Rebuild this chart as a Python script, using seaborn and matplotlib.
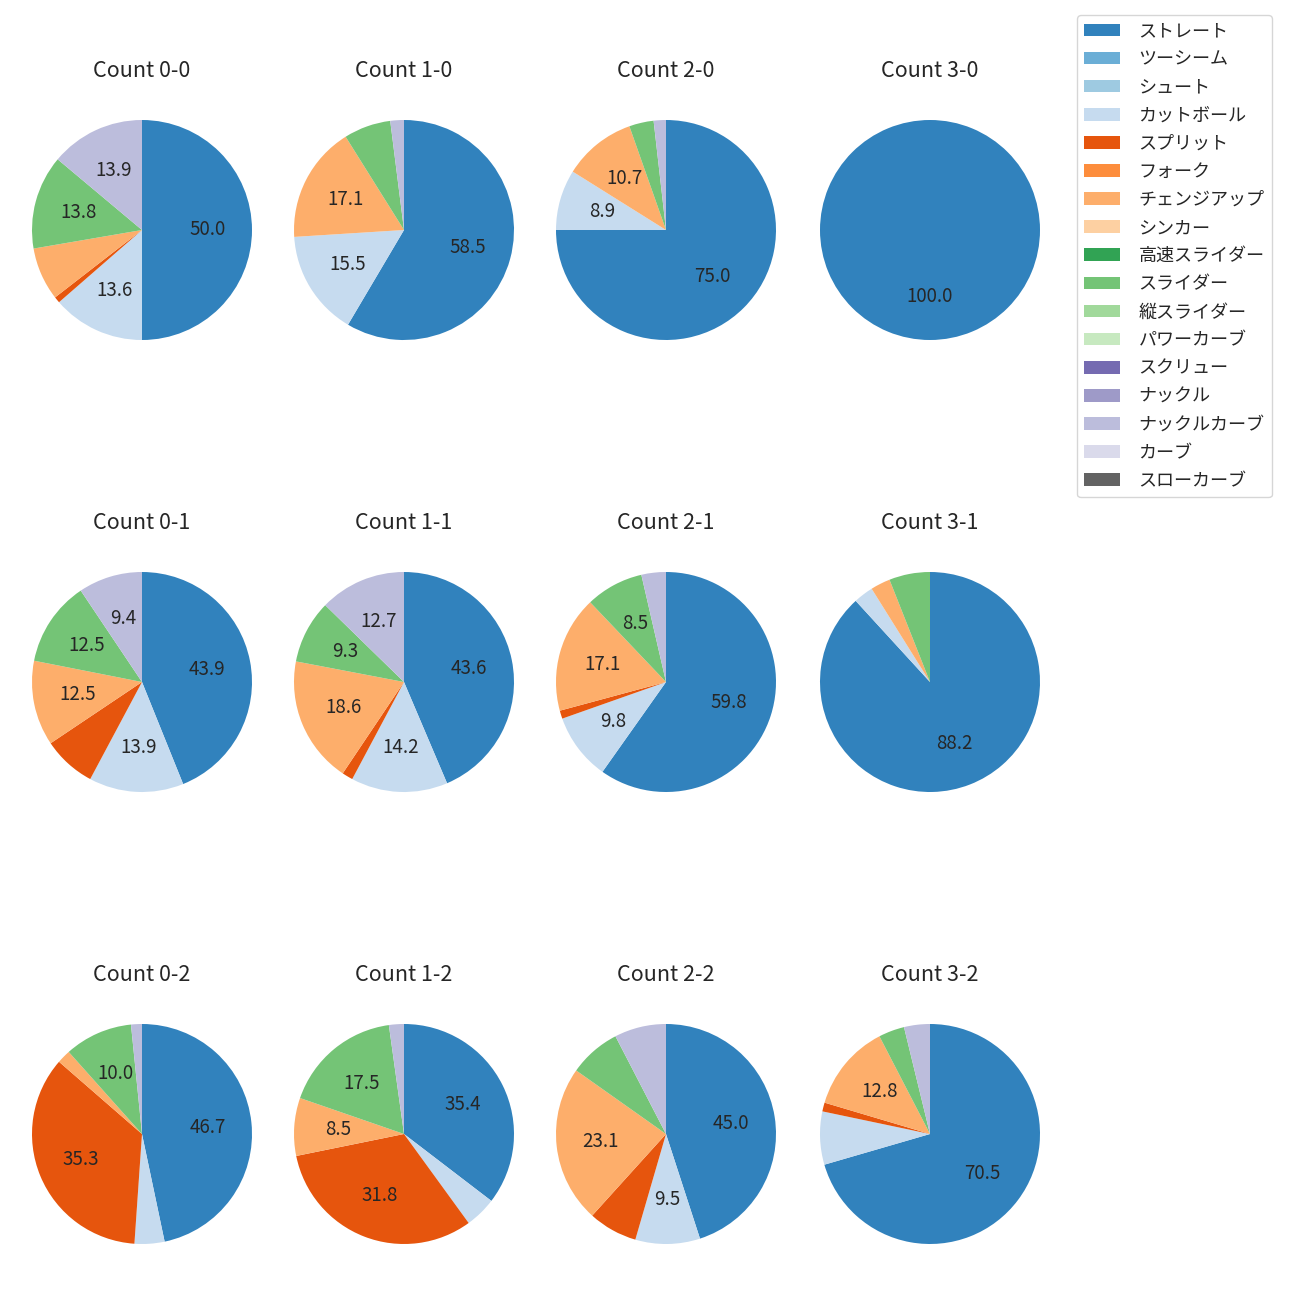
import matplotlib
matplotlib.use("Agg")
import matplotlib.pyplot as plt
from matplotlib.patches import Patch
import seaborn as sns

sns.set_style("white")
plt.rcParams['font.family'] = ['Noto Sans CJK JP', 'DejaVu Sans']

# pitch types (legend order)
pitch_types = ["ストレート", "ツーシーム", "シュート", "カットボール", "スプリット", "フォーク",
               "チェンジアップ", "シンカー", "高速スライダー", "スライダー", "縦スライダー",
               "パワーカーブ", "スクリュー", "ナックル", "ナックルカーブ", "カーブ", "スローカーブ"]

counts = ["0-0", "1-0", "2-0", "3-0",
          "0-1", "1-1", "2-1", "3-1",
          "0-2", "1-2", "2-2", "3-2"]

# share (%) per count, in the order of counts above
straight   = [50.0, 58.5, 75.0, 100.0, 43.9, 43.6, 59.8, 88.2, 46.7, 35.4, 45.0, 70.5]
cutball    = [13.6, 15.5,  8.9,   0.0, 13.9, 14.2,  9.8,  2.9,  4.4,  4.6,  9.5,  7.8]
split      = [ 0.9,  0.0,  0.0,   0.0,  7.8,  1.6,  1.2,  0.0, 35.3, 31.8,  7.2,  1.3]
changeup   = [ 7.8, 17.1, 10.7,   0.0, 12.5, 18.6, 17.1,  2.9,  2.0,  8.5, 23.1, 12.8]
slider     = [13.8,  6.9,  3.6,   0.0, 12.5,  9.3,  8.5,  6.0, 10.0, 17.5,  7.6,  3.8]
knucklecrv = [13.9,  2.0,  1.8,   0.0,  9.4, 12.7,  3.6,  0.0,  1.6,  2.2,  7.6,  3.8]

series = {
    "ストレート": straight,
    "カットボール": cutball,
    "スプリット": split,
    "チェンジアップ": changeup,
    "スライダー": slider,
    "ナックルカーブ": knucklecrv,
}

palette = sns.color_palette("tab20c", 20)
colors = {name: palette[i] for i, name in enumerate(pitch_types)}

fig = plt.figure(figsize=(13, 13), dpi=100)
W = H = 1300
box = 275
col_x = [142, 404, 666, 930]
row_y = [230, 682, 1134]

for i, cnt in enumerate(counts):
    r, c = divmod(i, 4)
    cx, cy = col_x[c], row_y[r]
    ax = fig.add_axes([(cx - box / 2) / W, 1 - (cy + box / 2) / H, box / W, box / H])
    names = [n for n in series if series[n][i] > 0]
    vals = [series[n][i] for n in names]
    ax.pie(vals, colors=[colors[n] for n in names], startangle=90, counterclock=False,
           autopct=lambda p: f"{p:.1f}" if p >= 8 else "",
           wedgeprops={"linewidth": 0},
           textprops={"fontsize": 13.5})
    ax.set_title(f"Count {cnt}", fontsize=15.5, pad=11)

handles = [Patch(facecolor=colors[n], edgecolor="none", label=n) for n in pitch_types]
fig.legend(handles=handles, loc="upper left", borderaxespad=0,
           bbox_to_anchor=(1077 / W, 1 - 15 / H), fontsize=13, frameon=True,
           labelspacing=0.56, handletextpad=1.0)

fig.savefig("out.png", dpi=100)
